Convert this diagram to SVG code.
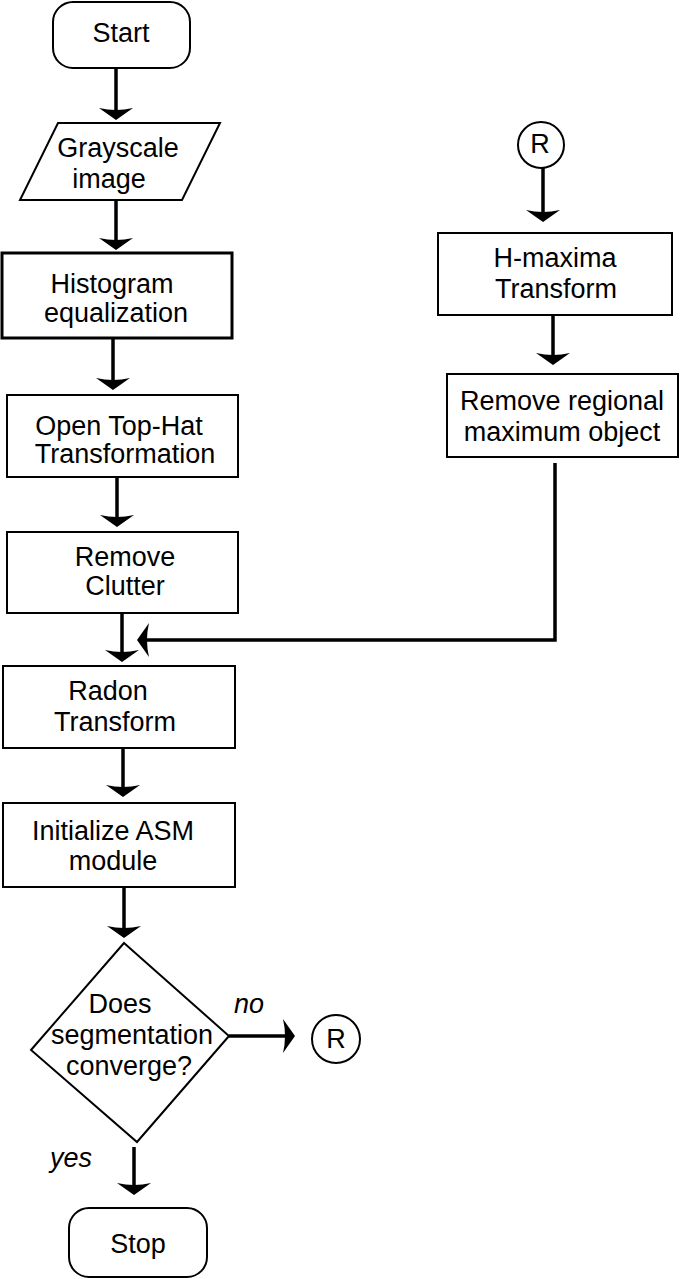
<svg xmlns="http://www.w3.org/2000/svg" width="680" height="1279" viewBox="0 0 680 1279">
<style>
.bg{fill:#ffffff}
.box{fill:#ffffff;stroke:#000000;stroke-width:2}
.thick{stroke-width:3}
.t{font-family:"Liberation Sans",Arial,sans-serif;font-size:27px;fill:#000000;text-anchor:middle}
.i{font-style:italic}
.c{fill:none;stroke:#000000;stroke-width:3.5}
</style>
<defs>
<marker id="ah" viewBox="-3 -18 14 36" refX="0" refY="0" markerWidth="14" markerHeight="36" markerUnits="userSpaceOnUse" orient="auto">
<path d="M10,0 L-2,-17 Q2,0 -2,17 Z" fill="#000000"/>
</marker>
</defs>
<rect class="bg" x="0" y="0" width="680" height="1279"/>

<g id="connectors">
<line class="c" x1="116" y1="68" x2="116" y2="110" marker-end="url(#ah)"/>
<line class="c" x1="116" y1="200" x2="116" y2="240" marker-end="url(#ah)"/>
<line class="c" x1="113" y1="338" x2="113" y2="380" marker-end="url(#ah)"/>
<line class="c" x1="117" y1="477" x2="117" y2="517" marker-end="url(#ah)"/>
<line class="c" x1="122" y1="613" x2="122" y2="652" marker-end="url(#ah)"/>
<line class="c" x1="123" y1="748" x2="123" y2="787" marker-end="url(#ah)"/>
<line class="c" x1="124" y1="887" x2="124" y2="928" marker-end="url(#ah)"/>
<line class="c" x1="134" y1="1147" x2="134" y2="1185" marker-end="url(#ah)"/>
<line class="c" x1="229" y1="1036" x2="285" y2="1036" marker-end="url(#ah)"/>
<line class="c" x1="543" y1="168" x2="543" y2="212" marker-end="url(#ah)"/>
<line class="c" x1="553" y1="315" x2="553" y2="355" marker-end="url(#ah)"/>
<polyline class="c" points="555,463 555,640 147,640" marker-end="url(#ah)"/>
</g>

<g id="start">
<rect class="box" x="53" y="2" width="137" height="66" rx="20"/>
<text class="t" x="121" y="42">Start</text>
</g>

<g id="grayscale">
<polygon class="box" points="58,123 220,123 182,200 20,200"/>
<text class="t" x="118" y="157">Grayscale</text>
<text class="t" x="109" y="188">image</text>
</g>

<g id="histogram">
<rect class="box thick" x="2" y="253" width="230" height="85"/>
<text class="t" x="112" y="293">Histogram</text>
<text class="t" x="116" y="322">equalization</text>
</g>

<g id="tophat">
<rect class="box" x="7" y="395" width="231" height="82"/>
<text class="t" x="119" y="435">Open Top-Hat</text>
<text class="t" x="125" y="463">Transformation</text>
</g>

<g id="clutter">
<rect class="box" x="7" y="532" width="231" height="81"/>
<text class="t" x="125" y="566">Remove</text>
<text class="t" x="125" y="595">Clutter</text>
</g>

<g id="radon">
<rect class="box" x="3" y="666" width="232" height="82"/>
<text class="t" x="108" y="700">Radon</text>
<text class="t" x="115" y="731">Transform</text>
</g>

<g id="asm">
<rect class="box" x="3" y="803" width="232" height="84"/>
<text class="t" x="113" y="840">Initialize ASM</text>
<text class="t" x="113" y="870">module</text>
</g>

<g id="decision">
<polygon class="box" points="124,943 229,1036 137,1142 31,1050"/>
<text class="t" x="120" y="1013">Does</text>
<text class="t" x="132" y="1044">segmentation</text>
<text class="t" x="129" y="1075">converge?</text>
</g>

<g id="label-no">
<text class="t i" x="249" y="1013">no</text>
</g>

<g id="label-yes">
<text class="t i" x="71" y="1167">yes</text>
</g>

<g id="r-out">
<circle class="box" cx="336" cy="1039" r="24"/>
<text class="t" x="336" y="1048">R</text>
</g>

<g id="stop">
<rect class="box" x="69" y="1208" width="138" height="69" rx="20"/>
<text class="t" x="138" y="1253">Stop</text>
</g>

<g id="r-in">
<circle class="box" cx="541" cy="145" r="23"/>
<text class="t" x="540" y="153">R</text>
</g>

<g id="hmaxima">
<rect class="box" x="438" y="233" width="234" height="82"/>
<text class="t" x="555" y="267">H-maxima</text>
<text class="t" x="556" y="298">Transform</text>
</g>

<g id="regional">
<rect class="box" x="447" y="374" width="231" height="83"/>
<text class="t" x="562" y="410">Remove regional</text>
<text class="t" x="562" y="441">maximum object</text>
</g>
</svg>
